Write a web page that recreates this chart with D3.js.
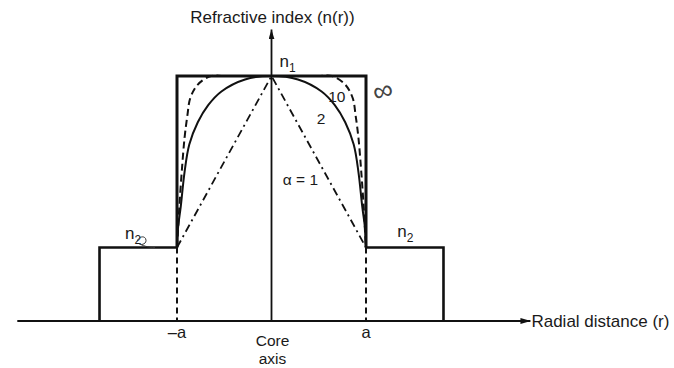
<!DOCTYPE html>
<html>
<head>
<meta charset="utf-8">
<script src="https://d3js.org/d3.v7.min.js"></script>
<style>
body { margin: 0; background: #fff; }
text { font-family: "Liberation Sans", Arial, sans-serif; fill: #1a1a1a; }
</style>
</head>
<body>
<svg id="viz"></svg>
<script>
// profile shapes: r/a  ->  (n - n2)/(n1 - n2)
var alpha1R = [0, 1];
var alpha1G = [1, 0];
var alpha2R = [0, 0.28, 0.53, 0.67, 0.78, 0.87, 0.92, 0.96, 0.99, 1];
var alpha2G = [1, 0.98, 0.91, 0.83, 0.73, 0.60, 0.44, 0.24, 0.11, 0];
var alpha10R = [0, 0.5, 0.64, 0.78, 0.86, 0.89, 0.92, 0.95, 0.975, 0.99, 1];
var alpha10G = [1, 1, 1, 0.95, 0.87, 0.77, 0.64, 0.44, 0.24, 0.09, 0];

// index levels (arbitrary units) and extents in units of a
var n1 = 1, n2 = 0.3, indexTop = 1.19;
var cladEdge = 1.82, axisStart = -2.69, axisEnd = 2.74;
var curveLabels = ["α = 1", "2", "10"];
var tickLabels = ["–a", "a"];

var width = 674, height = 368;

var svg = d3.select("#viz")
  .attr("width", width)
  .attr("height", height);

var x = d3.scaleLinear().domain([-1, 1]).range([177, 366]);
var y = d3.scaleLinear().domain([0, 1]).range([321, 76]);

// arrow head
svg.append("defs").append("marker")
  .attr("id", "arrow")
  .attr("viewBox", "0 0 10 6")
  .attr("refX", 10).attr("refY", 3)
  .attr("markerWidth", 10).attr("markerHeight", 6)
  .attr("markerUnits", "userSpaceOnUse")
  .attr("orient", "auto")
  .append("path")
  .attr("d", "M0,0 L10,3 L0,6 Z")
  .attr("fill", "#111");

var g = svg.append("g");

// radial axis
g.append("line")
  .attr("x1", x(axisStart)).attr("x2", x(axisEnd))
  .attr("y1", y(0)).attr("y2", y(0))
  .attr("stroke", "#111").attr("stroke-width", 1.8)
  .attr("marker-end", "url(#arrow)");

// index axis
g.append("line")
  .attr("x1", x(0)).attr("x2", x(0))
  .attr("y1", y(0)).attr("y2", y(indexTop))
  .attr("stroke", "#111").attr("stroke-width", 1.8)
  .attr("marker-end", "url(#arrow)");

// cladding steps
var clad = d3.line().x(function(d) { return x(d[0]); }).y(function(d) { return y(d[1]); });
g.append("path")
  .attr("d", clad([[-cladEdge, 0], [-cladEdge, n2], [-1, n2]]))
  .attr("fill", "none").attr("stroke", "#111").attr("stroke-width", 2.6);
g.append("path")
  .attr("d", clad([[1, n2], [cladEdge, n2], [cladEdge, 0]]))
  .attr("fill", "none").attr("stroke", "#111").attr("stroke-width", 2.6);

// dashed core boundaries
[-1, 1].forEach(function(r) {
  g.append("line")
    .attr("x1", x(r)).attr("x2", x(r))
    .attr("y1", y(n2)).attr("y2", y(0))
    .attr("stroke", "#111").attr("stroke-width", 2)
    .attr("stroke-dasharray", "6,4");
});

// graded profiles, mirrored about the core axis
function profile(rs, gs) {
  var pts = [];
  for (var i = rs.length - 1; i > 0; i--) pts.push([-rs[i], n2 + (n1 - n2) * gs[i]]);
  for (var j = 0; j < rs.length; j++) pts.push([rs[j], n2 + (n1 - n2) * gs[j]]);
  return pts;
}
var curve = d3.line()
  .x(function(d) { return x(d[0]); })
  .y(function(d) { return y(d[1]); })
  .curve(d3.curveCatmullRom.alpha(0.5));

g.append("path")
  .attr("d", clad(profile(alpha1R, alpha1G)))
  .attr("fill", "none").attr("stroke", "#111").attr("stroke-width", 1.8)
  .attr("stroke-dasharray", "8,4,2,4");
g.append("path")
  .attr("d", curve(profile(alpha2R, alpha2G)))
  .attr("fill", "none").attr("stroke", "#111").attr("stroke-width", 2);
g.append("path")
  .attr("d", curve(profile(alpha10R, alpha10G)))
  .attr("fill", "none").attr("stroke", "#111").attr("stroke-width", 2)
  .attr("stroke-dasharray", "7,4");

// step profile (alpha = infinity)
g.append("path")
  .attr("d", clad([[-1, n2], [-1, n1], [1, n1], [1, n2]]))
  .attr("fill", "none").attr("stroke", "#111").attr("stroke-width", 3);

// labels
g.append("text").attr("x", x(0) + 1).attr("y", 23)
  .attr("text-anchor", "middle").attr("font-size", 17)
  .text("Refractive index (n(r))");
g.append("text").attr("x", x(axisEnd) + 1).attr("y", y(0) + 6)
  .attr("font-size", 17)
  .text("Radial distance (r)");

var n1Lab = g.append("text").attr("x", x(0) + 8).attr("y", y(n1) - 9).attr("font-size", 17);
n1Lab.append("tspan").text("n");
n1Lab.append("tspan").attr("font-size", 12).attr("dy", 5).text("1");

var n2Right = g.append("text").attr("x", x(1.33)).attr("y", y(n2) - 11).attr("font-size", 17);
n2Right.append("tspan").text("n");
n2Right.append("tspan").attr("font-size", 12).attr("dy", 5).text("2");

var n2Left = g.append("text").attr("x", x(-1.55)).attr("y", y(n2) - 9).attr("font-size", 17);
n2Left.append("tspan").text("n");
n2Left.append("tspan").attr("font-size", 12).attr("dy", 5).text("2");
// hand-written loop over the left subscript
g.append("path")
  .attr("d", "M" + (x(-1.55) + 12) + "," + (y(n2) - 6) +
    " c 2,-6 9,-6 9,-1 c 0,4 -6,5 -7,3 c 3,2 9,4 16,4")
  .attr("fill", "none").attr("stroke", "#333").attr("stroke-width", 1);

g.append("text").attr("x", x(0.12)).attr("y", 185).attr("font-size", 15.5).text(curveLabels[0]);
g.append("text").attr("x", x(0.48)).attr("y", 124).attr("font-size", 15.5).text(curveLabels[1]);
g.append("text").attr("x", x(0.6)).attr("y", 102).attr("font-size", 15.5).text(curveLabels[2]);

// hand-written infinity mark
g.append("text").attr("x", x(1.18)).attr("y", 100)
  .attr("text-anchor", "middle").attr("font-size", 28)
  .attr("font-family", "DejaVu Sans").attr("font-weight", 200)
  .attr("transform", "rotate(-15," + x(1.18) + ",92)")
  .style("fill", "#444")
  .text("∞");

g.selectAll(".tick")
  .data(tickLabels)
  .enter().append("text")
  .attr("class", "tick")
  .attr("x", function(d, i) { return x(i ? 1 : -1); })
  .attr("y", y(0) + 17)
  .attr("text-anchor", "middle")
  .attr("font-size", 16.5)
  .text(function(d) { return d; });

g.append("text").attr("x", x(0) + 1).attr("y", 346)
  .attr("text-anchor", "middle").attr("font-size", 15.5).text("Core");
g.append("text").attr("x", x(0) + 1).attr("y", 364)
  .attr("text-anchor", "middle").attr("font-size", 15.5).text("axis");
</script>
</body>
</html>
